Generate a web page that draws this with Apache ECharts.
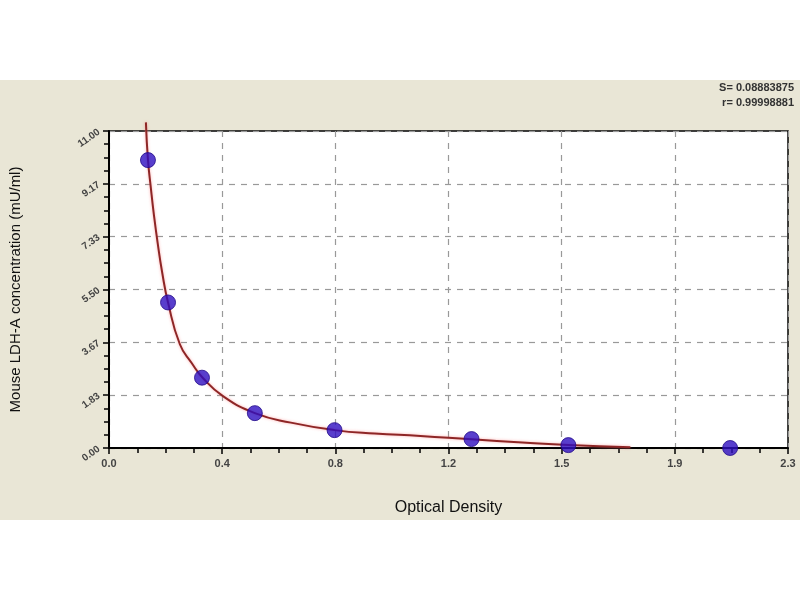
<!DOCTYPE html>
<html>
<head>
<meta charset="utf-8">
<script src="https://cdn.jsdelivr.net/npm/echarts@6/dist/echarts.min.js"></script>
<style>
html,body{margin:0;padding:0;background:#fff;}
#band{position:absolute;left:0;top:80px;width:800px;height:440px;background:#e9e6d6;}
#c{position:absolute;left:0;top:0;width:800px;height:600px;}
</style>
</head>
<body>
<div id="band"></div>
<div id="c"></div>
<script>
// Standard points (OD, concentration)
const pointOD = [0.132, 0.200, 0.315, 0.494, 0.764, 1.228, 1.556, 2.104];
const pointConc = [9.99, 5.05, 2.44, 1.21, 0.62, 0.31, 0.10, 0.00];
// Fitted curve
const curveOD = [0.125, 0.132, 0.142, 0.152, 0.165, 0.180, 0.200, 0.240, 0.280, 0.318, 0.386, 0.494, 0.616, 0.764, 0.900, 1.055, 1.228, 1.400, 1.556, 1.766];
const curveConc = [11.30, 10.00, 9.00, 8.10, 7.10, 6.10, 5.05, 3.60, 2.95, 2.43, 1.80, 1.21, 0.88, 0.62, 0.50, 0.42, 0.30, 0.19, 0.10, 0.03];
const statLines = ['S= 0.08883875', 'r= 0.99998881'];
const xMax = 2.3, yMax = 11;

const chart = echarts.init(document.getElementById('c'));
chart.setOption({
  backgroundColor: 'transparent',
  animation: false,
  graphic: [{
    type: 'text', right: 6, top: 80,
    style: { text: statLines.join('\n'), fill: '#333', font: 'bold 11px Arial, "Liberation Sans"', textAlign: 'right', lineHeight: 15 }
  }],
  grid: { left: 108, right: 12, top: 131, bottom: 152, show: true, backgroundColor: '#ffffff', borderColor: '#000', borderWidth: 1.5 },
  xAxis: {
    type: 'value', min: 0, max: xMax, interval: xMax / 6,
    name: 'Optical Density', nameLocation: 'middle', nameGap: 52,
    nameTextStyle: { color: '#111', fontSize: 16, fontFamily: 'Arial, "Liberation Sans"' },
    axisLine: { lineStyle: { color: '#000', width: 2 } },
    axisTick: { show: true, length: 6, lineStyle: { color: '#000', width: 1.5 } },
    minorTick: { show: true, splitNumber: 4, length: 5, lineStyle: { color: '#000', width: 1.5 } },
    axisLabel: { color: '#444', fontSize: 11, fontWeight: 'bold', margin: 10, formatter: v => (v + 1e-9).toFixed(1) },
    splitLine: { show: true, lineStyle: { color: '#999', type: [6, 6], width: 1.2 } }
  },
  yAxis: {
    type: 'value', min: 0, max: yMax, interval: yMax / 6,
    name: 'Mouse LDH-A concentration (mU/ml)', nameLocation: 'middle', nameGap: 86,
    nameTextStyle: { color: '#111', fontSize: 15, fontFamily: 'Arial, "Liberation Sans"' },
    axisLine: { show: true, lineStyle: { color: '#000', width: 2 } },
    axisTick: { show: true, length: 6, lineStyle: { color: '#000', width: 1.5 } },
    minorTick: { show: true, splitNumber: 4, length: 5, lineStyle: { color: '#000', width: 1.5 } },
    axisLabel: { color: '#444', fontSize: 10, fontWeight: 'bold', rotate: 35, margin: 10, formatter: v => (v + 1e-9).toFixed(2) },
    splitLine: { show: true, lineStyle: { color: '#999', type: [6, 6], width: 1.2 } }
  },
  series: [
    {
      type: 'line', clip: false, smooth: 0.5, showSymbol: false, z: 2,
      data: curveOD.map((x, i) => [x, curveConc[i]]),
      lineStyle: { color: '#8e2626', width: 2, shadowColor: 'rgba(255,120,120,0.6)', shadowBlur: 3 }
    },
    {
      type: 'scatter', symbol: 'circle', symbolSize: 15, clip: false, z: 3,
      data: pointOD.map((x, i) => [x, pointConc[i]]),
      itemStyle: { color: '#2e0fc0', borderColor: '#220a88', borderWidth: 1 }
    }
  ]
});
</script>
</body>
</html>
